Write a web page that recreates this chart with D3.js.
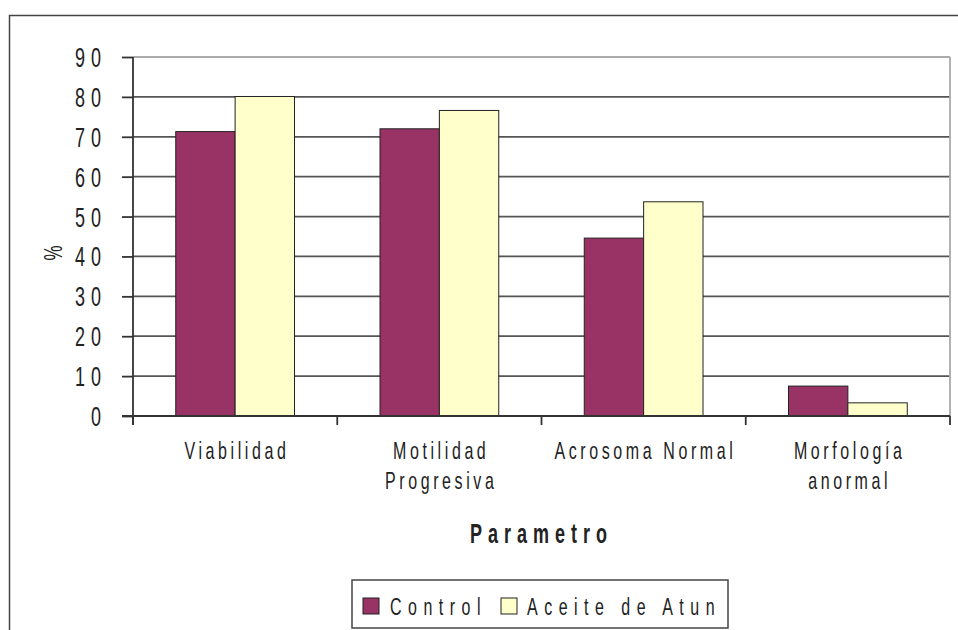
<!DOCTYPE html>
<html>
<head>
<meta charset="utf-8">
<script src="https://cdn.jsdelivr.net/npm/d3@7"></script>
<style>
  html, body { margin: 0; padding: 0; background: #fff; }
  svg { display: block; }
  text { font-family: "Liberation Sans", Arial, sans-serif; fill: #222; }
</style>
</head>
<body>
<svg id="chart" width="958" height="630"></svg>
<script>
const categories = ["Viabilidad", "Motilidad\nProgresiva", "Acrosoma Normal", "Morfología\nanormal"];
const seriesNames = ["Control", "Aceite de Atun"];
const controlValues = [71.3, 72.0, 44.6, 7.5];
const aceiteValues = [80.1, 76.6, 53.7, 3.3];
const yTicks = [0, 10, 20, 30, 40, 50, 60, 70, 80, 90];
const colors = ["#993366", "#FFFFCC"];
const xTitle = "Parametro";
const yTitle = "%";

(function () {
const svg = d3.select("#chart");
const pLeft = 133, pRight = 950, pTop = 57, pBottom = 416;
const SY = 1.5;

// outer frame
svg.append("rect").attr("x", 9.5).attr("y", 15.5).attr("width", 1200).attr("height", 900)
  .attr("fill", "none").attr("stroke", "#444").attr("stroke-width", 1.5);

const y = d3.scaleLinear().domain([0, 90]).range([pBottom, pTop]);
const x0 = d3.scaleBand().domain(categories).range([pLeft, pRight]).paddingInner(0).paddingOuter(0);
const x1 = d3.scaleBand().domain(seriesNames).range([0, x0.bandwidth()]).paddingInner(0).paddingOuter(0.72);

// gridlines
svg.append("g").selectAll("line").data(yTicks.filter(t => t > 0 && t < 90)).join("line")
  .attr("x1", pLeft).attr("x2", pRight).attr("y1", d => y(d)).attr("y2", d => y(d))
  .attr("stroke", "#555").attr("stroke-width", 1.8);
// plot border top & right
svg.append("line").attr("x1", pLeft).attr("x2", pRight).attr("y1", y(90)).attr("y2", y(90))
  .attr("stroke", "#aaa").attr("stroke-width", 1.8);
svg.append("line").attr("x1", pRight).attr("x2", pRight).attr("y1", y(90)).attr("y2", pBottom)
  .attr("stroke", "#aaa").attr("stroke-width", 1.8);

// bars
const data = categories.map((c, i) => ({ cat: c, vals: [controlValues[i], aceiteValues[i]] }));
const groups = svg.append("g").selectAll("g").data(data).join("g")
  .attr("transform", d => `translate(${x0(d.cat)},0)`);
groups.selectAll("rect").data(d => d.vals.map((v, j) => ({ v, s: seriesNames[j], j }))).join("rect")
  .attr("x", d => x1(d.s)).attr("width", x1.bandwidth())
  .attr("y", d => y(d.v)).attr("height", d => pBottom - y(d.v))
  .attr("fill", d => colors[d.j]).attr("stroke", "#222").attr("stroke-width", 1);

// y axis
const yAxis = d3.axisLeft(y).tickValues(yTicks).tickSize(11).tickFormat("");
const ya = svg.append("g").attr("transform", `translate(${pLeft},0)`).call(yAxis);
ya.select(".domain").remove();
ya.selectAll(".tick line").attr("stroke", "#333").attr("stroke-width", 1.8);
svg.append("line").attr("x1", pLeft).attr("x2", pLeft).attr("y1", pTop).attr("y2", pBottom + 9)
  .attr("stroke", "#333").attr("stroke-width", 1.8);
// y tick labels
const tls = 6;
svg.append("g").selectAll("text").data(yTicks).join("text")
  .attr("transform", d => `translate(${101 + tls},${y(d) + 10}) scale(1,${SY})`)
  .attr("text-anchor", "end").attr("font-size", 18).attr("letter-spacing", tls)
  .text(d => d);

// x axis
svg.append("line").attr("x1", pLeft - 11).attr("x2", pRight).attr("y1", pBottom).attr("y2", pBottom)
  .attr("stroke", "#333").attr("stroke-width", 1.8);
const edges = categories.map(c => x0(c)).concat([pRight]);
svg.append("g").selectAll("line").data(edges).join("line")
  .attr("x1", d => d).attr("x2", d => d).attr("y1", pBottom).attr("y2", pBottom + 9)
  .attr("stroke", "#333").attr("stroke-width", 1.8);

// category labels
const cls = 3.6;
categories.forEach(c => {
  const lines = c.split("\n");
  const cx = x0(c) + x0.bandwidth() / 2 + cls / 2;
  lines.forEach((ln, k) => {
    svg.append("text")
      .attr("transform", `translate(${cx},${459 + k * 29.5}) scale(1,${SY})`)
      .attr("text-anchor", "middle").attr("font-size", 16).attr("letter-spacing", cls)
      .text(ln);
  });
});

// x title
svg.append("text")
  .attr("transform", `translate(${538.5 + 3},543) scale(1,${SY})`)
  .attr("text-anchor", "middle").attr("font-size", 18).attr("font-weight", "bold")
  .attr("letter-spacing", 6).text(xTitle);

// y title
svg.append("text")
  .attr("transform", `translate(62,253) rotate(-90) scale(1,${SY})`)
  .attr("text-anchor", "middle").attr("font-size", 17).text(yTitle);

// legend
svg.append("rect").attr("x", 352).attr("y", 580).attr("width", 376).attr("height", 48)
  .attr("fill", "#fff").attr("stroke", "#444").attr("stroke-width", 1.5);
const legX = [363, 501];
const legTX = [390, 527];
seriesNames.forEach((s, i) => {
  svg.append("rect").attr("x", legX[i]).attr("y", 598).attr("width", 16).attr("height", 16)
    .attr("fill", colors[i]).attr("stroke", "#222").attr("stroke-width", 1);
  svg.append("text")
    .attr("transform", `translate(${legTX[i]},615) scale(1,${SY})`)
    .attr("font-size", 16).attr("letter-spacing", 6.5).text(s);
});
})();
</script>
</body>
</html>
